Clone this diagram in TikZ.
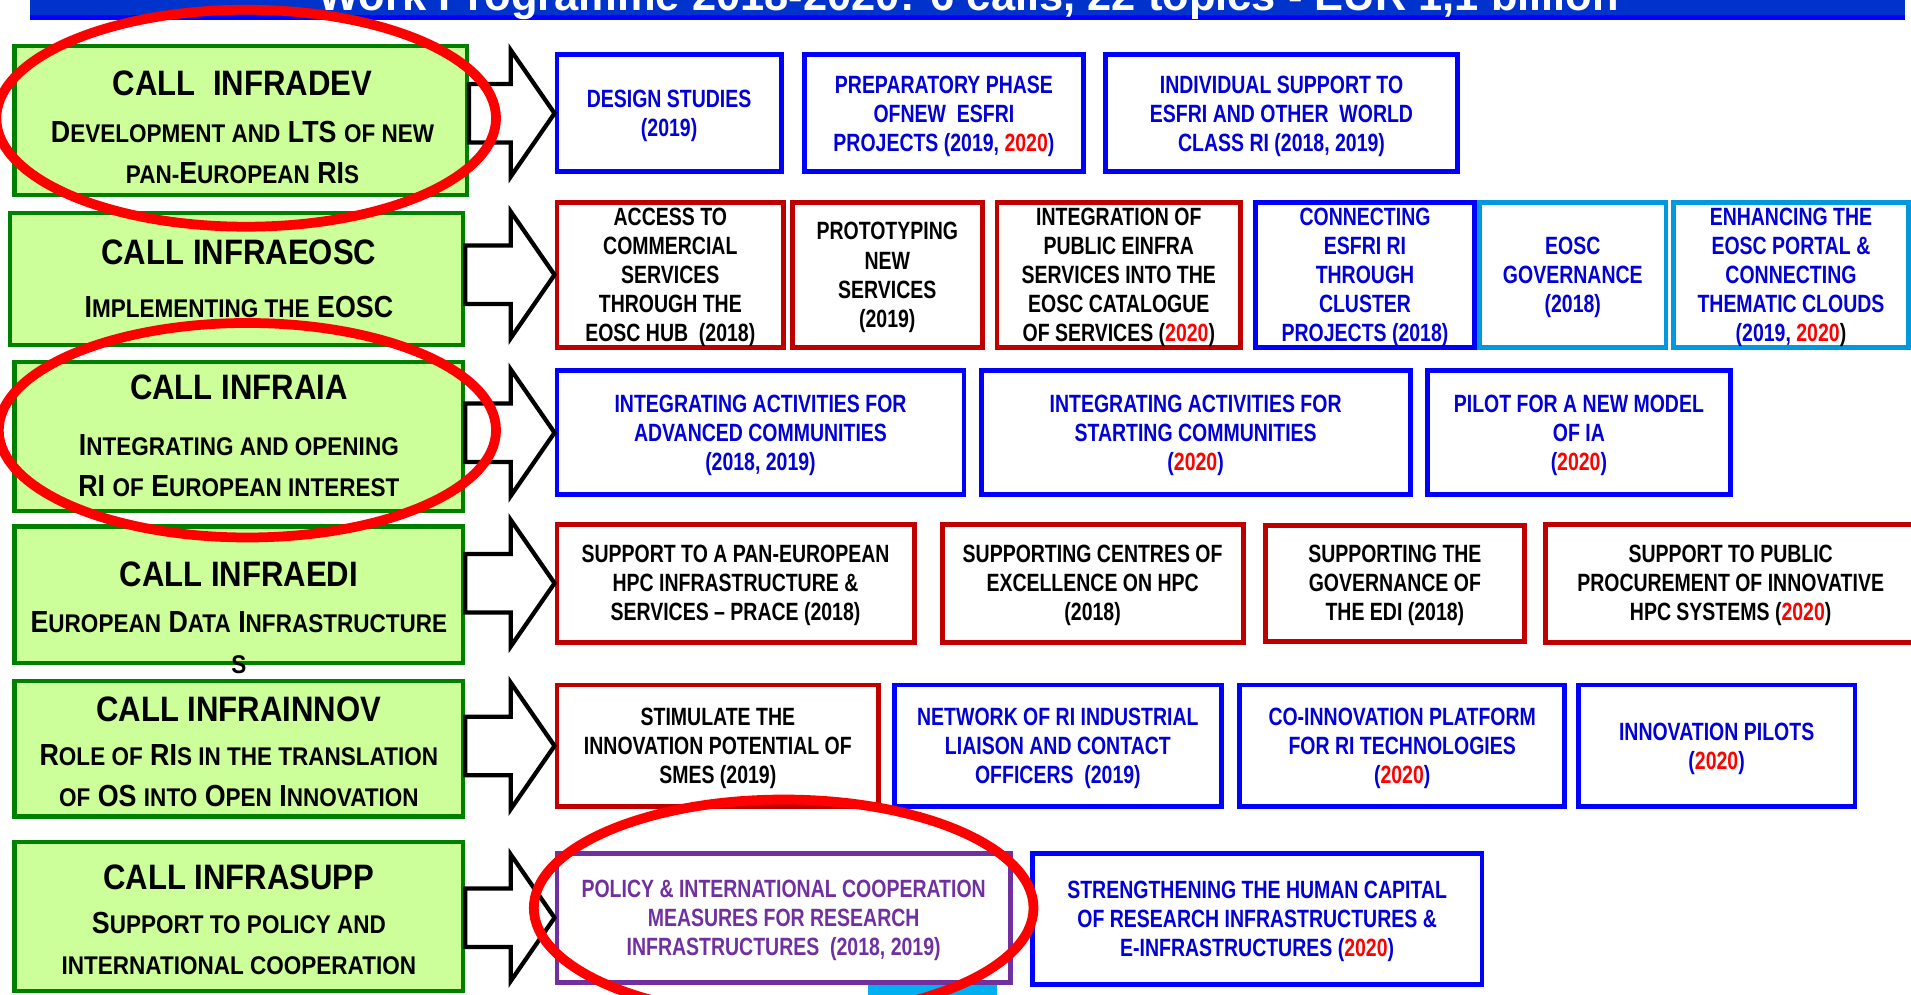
\documentclass[tikz,border=0pt]{standalone}
\usepackage{fontspec}
\setmainfont{Liberation Sans}
\newfontfamily\callfont[FakeStretch=0.88]{Liberation Sans}
\newfontfamily\topicfont[FakeStretch=0.78]{Liberation Sans}
\usepackage{tikz}
\usetikzlibrary{calc}
\definecolor{callgreen}{RGB}{0,128,0}
\definecolor{callfill}{RGB}{204,255,153}
\definecolor{topicblue}{RGB}{0,0,255}
\definecolor{textblue}{RGB}{0,0,215}
\definecolor{darkred}{RGB}{192,0,0}
\definecolor{eoscblue}{RGB}{0,153,221}
\definecolor{policypurple}{RGB}{112,48,160}
\definecolor{yearred}{RGB}{255,0,0}
\definecolor{ringred}{RGB}{255,0,0}
\definecolor{barblue}{RGB}{0,51,204}
\definecolor{barbright}{RGB}{0,0,255}
\definecolor{cyanbox}{RGB}{0,176,240}
\newcommand{\sm}[1]{{\fontsize{12.6}{20.4}\selectfont #1}}
\newcommand{\yr}[1]{\textcolor{yearred}{#1}}
\newcommand{\calltitle}[1]{{\fontsize{17.4}{20.4}\selectfont #1}}
\newcommand{\callarrow}[2]{%
  \draw[bigarrow] ($(#1.east |- #2.west)+(0,24)$) -- ($(#2.west)+(-36,24)$)
    -- ($(#2.west)+(-36,52)$) -- (#2.west) -- ($(#2.west)+(-36,-52)$)
    -- ($(#2.west)+(-36,-24)$) -- ($(#1.east |- #2.west)+(0,-24)$) -- cycle;}
\tikzset{
  boxsize/.style 2 args={minimum width=#1*0.6pt, minimum height=#2*0.6pt},
  callbox/.style={draw=callgreen, fill=callfill, line width=2.1pt, inner sep=0pt},
  calltext/.style={anchor=north, align=center, inner sep=0pt,
    font=\callfont\bfseries\fontsize{15}{20.4}\selectfont},
  topic/.style={fill=white, line width=2.4pt, inner sep=0pt, align=center,
    font=\topicfont\bfseries\fontsize{12.3}{14.3}\selectfont, text depth=-1pt},
  bluetopic/.style={topic, draw=topicblue, text=textblue},
  redtopic/.style={topic, draw=darkred, text=black},
  eosctopic/.style={topic, draw=eoscblue, text=textblue},
  policytopic/.style={topic, draw=policypurple, text=policypurple},
  bigarrow/.style={draw=black, fill=white, line width=2.1pt, line join=miter},
  redring/.style={draw=ringred, line width=4.8pt}
}
\begin{document}
\begin{tikzpicture}[x=0.6pt,y=0.6pt]
\useasboundingbox (0,0) rectangle (1568,-816);
\clip (0,0) rectangle (1568,-816);
\fill[barblue] (25,0) rectangle (1563,-12.3);
\fill[barbright] (25,-12.3) rectangle (1563,-16);
\node[anchor=base, text=white, inner sep=0pt, font=\bfseries\fontsize{21.4}{24}\selectfont] (wp) at (795,-9) {Work Programme 2018-2020: 6 calls, 22 topics - EUR 1,1 billion};
\fill[cyanbox] (712,-806.5) rectangle (818,-820);

\node[callbox, boxsize={371}{122}] (dev) at (197.5,-99) {};
\node[callbox, boxsize={372}{108}] (eosc) at (194,-229) {};
\node[callbox, boxsize={368}{122}] (ia) at (196,-358) {};
\node[callbox, boxsize={368}{112}] (edi) at (196,-488) {};
\node[callbox, boxsize={368}{111}] (innov) at (196,-614.5) {};
\node[callbox, boxsize={368}{122}] (supp) at (196,-752) {};

\node[calltext] (devtxt) at (199,-57.5) {\calltitle{CALL~ INFRADEV}\\[2.8pt] D\sm{EVELOPMENT AND} LTS \sm{OF NEW}\\ \sm{PAN-}E\sm{UROPEAN} RI\sm{S}};
\node[calltext] (eosctxt) at (196,-196.5) {\calltitle{CALL INFRAEOSC}\\[5.6pt] I\sm{MPLEMENTING THE} EOSC};
\node[calltext] (iatxt) at (196,-307.5) {\calltitle{CALL INFRAIA}\\[7pt] I\sm{NTEGRATING AND OPENING}\\ RI \sm{OF} E\sm{UROPEAN INTEREST}};
\node[calltext] (editxt) at (196,-460.5) {\calltitle{CALL INFRAEDI}\\[2.2pt] E\sm{UROPEAN} D\sm{ATA} I\sm{NFRASTRUCTURE}\\ \sm{S}};
\node[calltext] (innovtxt) at (196,-571.5) {\calltitle{CALL INFRAINNOV}\\[1pt] R\sm{OLE OF} RI\sm{S IN THE TRANSLATION}\\ \sm{OF} OS \sm{INTO} O\sm{PEN} I\sm{NNOVATION}};
\node[calltext] (supptxt) at (196,-709.5) {\calltitle{CALL INFRASUPP}\\[1pt] S\sm{UPPORT TO POLICY AND}\\ \sm{INTERNATIONAL COOPERATION}};

\node[bluetopic, boxsize={184}{96}] (dev1) at (549,-93) {DESIGN STUDIES\\(2019)};
\node[bluetopic, boxsize={229}{96}] (dev2) at (774.5,-93) {PREPARATORY PHASE\\OFNEW~ ESFRI\\PROJECTS (2019, \yr{2020})};
\node[bluetopic, boxsize={289}{96}] (dev3) at (1051.5,-93) {INDIVIDUAL SUPPORT TO\\ESFRI AND OTHER~ WORLD\\CLASS RI (2018, 2019)};

\node[redtopic, boxsize={186}{119}] (eosc1) at (550,-225.5) {ACCESS TO\\COMMERCIAL\\SERVICES\\THROUGH THE\\EOSC HUB~ (2018)};
\node[redtopic, boxsize={156}{119}] (eosc2) at (728,-225.5) {PROTOTYPING\\NEW\\SERVICES\\(2019)};
\node[redtopic, boxsize={200}{119}] (eosc3) at (918,-225.5) {INTEGRATION OF\\PUBLIC EINFRA\\SERVICES INTO THE\\EOSC CATALOGUE\\OF SERVICES (\yr{2020})};
\node[bluetopic, boxsize={180}{119}] (eosc4) at (1120,-225.5) {CONNECTING\\ESFRI RI\\THROUGH\\CLUSTER\\PROJECTS (2018)};
\node[eosctopic, boxsize={153}{119}] (eosc5) at (1290.5,-225.5) {EOSC\\GOVERNANCE\\(2018)};
\node[eosctopic, boxsize={193}{119}] (eosc6) at (1469.5,-225.5) {ENHANCING THE\\EOSC PORTAL \&\\CONNECTING\\THEMATIC CLOUDS\\(2019, \yr{2020}\textcolor{black}{)}};

\node[bluetopic, boxsize={334}{102}] (ia1) at (624,-355) {INTEGRATING ACTIVITIES FOR\\ADVANCED COMMUNITIES\\(2018, 2019)};
\node[bluetopic, boxsize={352}{102}] (ia2) at (981,-355) {INTEGRATING ACTIVITIES FOR\\STARTING COMMUNITIES\\(\yr{2020})};
\node[bluetopic, boxsize={249}{102}] (ia3) at (1295.5,-355) {PILOT FOR A NEW MODEL\\OF IA\\(\yr{2020})};

\node[redtopic, boxsize={293}{97}] (edi1) at (603.5,-478.5) {SUPPORT TO A PAN-EUROPEAN\\HPC INFRASTRUCTURE \&\\SERVICES – PRACE (2018)};
\node[redtopic, boxsize={247}{97}] (edi2) at (896.5,-478.5) {SUPPORTING CENTRES OF\\EXCELLENCE ON HPC\\(2018)};
\node[redtopic, boxsize={213}{95}] (edi3) at (1144.5,-478.5) {SUPPORTING THE\\GOVERNANCE OF\\THE EDI (2018)};
\node[redtopic, boxsize={304}{97}] (edi4) at (1420,-478.5) {SUPPORT TO PUBLIC\\PROCUREMENT OF INNOVATIVE\\HPC SYSTEMS (\yr{2020})};

\node[redtopic, boxsize={264}{100}] (innov1) at (589,-612) {STIMULATE THE\\INNOVATION POTENTIAL OF\\SMES (2019)};
\node[bluetopic, boxsize={268}{100}] (innov2) at (868,-612) {NETWORK OF RI INDUSTRIAL\\LIAISON AND CONTACT\\OFFICERS~ (2019)};
\node[bluetopic, boxsize={267}{100}] (innov3) at (1150.5,-612) {CO-INNOVATION PLATFORM\\FOR RI TECHNOLOGIES\\(\yr{2020})};
\node[bluetopic, boxsize={227}{100}] (innov4) at (1408.5,-612) {INNOVATION PILOTS\\(\yr{2020})};

\node[policytopic, boxsize={372}{106}] (supp1) at (643,-753) {POLICY \& INTERNATIONAL COOPERATION\\MEASURES FOR RESEARCH\\INFRASTRUCTURES~ (2018, 2019)};
\node[bluetopic, boxsize={369}{108}] (supp2) at (1031.5,-754) {STRENGTHENING THE HUMAN CAPITAL\\OF RESEARCH INFRASTRUCTURES \&\\E-INFRASTRUCTURES (\yr{2020})};

\callarrow{dev}{dev1}
\callarrow{eosc}{eosc1}
\callarrow{ia}{ia1}
\callarrow{edi}{edi1}
\callarrow{innov}{innov1}
\callarrow{supp}{supp1}

\draw[redring] (202,-97) ellipse [x radius=205, y radius=89];
\draw[redring] (203,-353) ellipse [x radius=204, y radius=88];
\draw[redring] (643,-745) ellipse [x radius=205, y radius=89];
\end{tikzpicture}
\end{document}
